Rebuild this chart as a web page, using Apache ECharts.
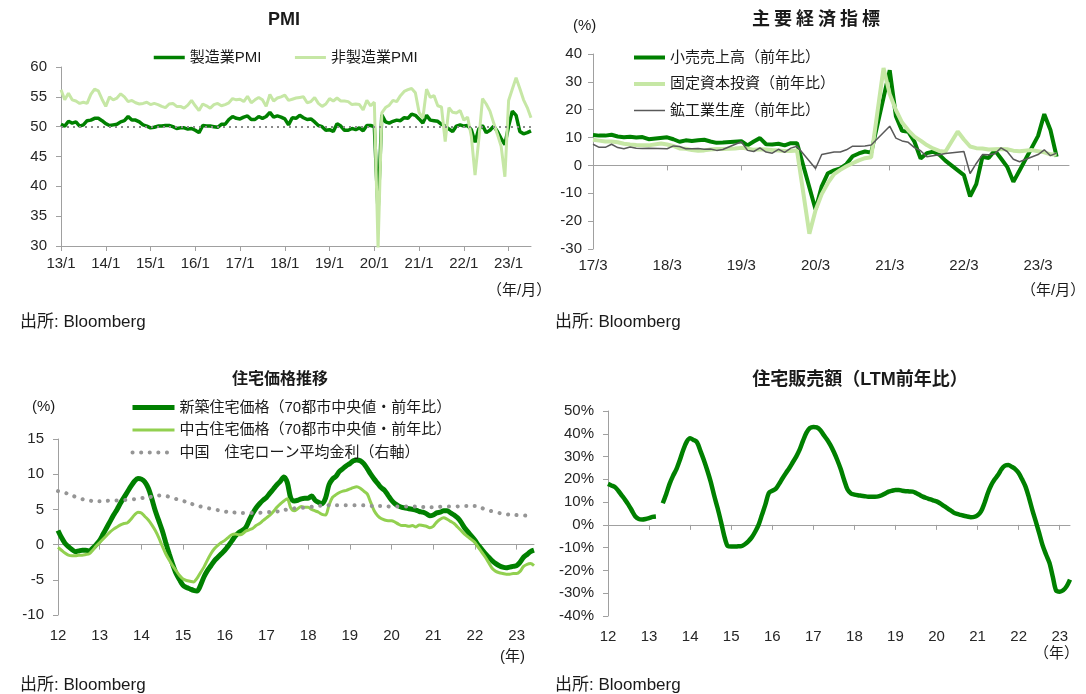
<!DOCTYPE html>
<html>
<head>
<meta charset="utf-8">
<title>China indicators</title>
<script src="https://cdn.jsdelivr.net/npm/echarts@6.0.0/dist/echarts.min.js"></script>
<style>
  html, body { margin: 0; padding: 0; background: #fff; }
  #chart { width: 1086px; height: 694px; }
</style>
</head>
<body>
<div id="chart"></div>
<script>
  // 月次カテゴリ (yy/m)
  const monthList = (y, m, n) => {
    const out = []
    for (let i = 0; i < n; i++) {
      const t = (y * 12 + m - 1) + i
      out.push(String(Math.floor(t / 12) % 100).padStart(2, '0') + '/' + (t % 12 + 1))
    }
    return out
  }

  // PMI (2013/1 - 2023/7)
  const pmiMonths = monthList(2013, 1, 127)
  const pmiMfg = [
    50.4, 50.1, 50.9, 50.6, 50.8, 50.1, 50.3, 51.0, 51.1, 51.4, 51.4, 51.0,
    50.5, 50.2, 50.3, 50.4, 50.8, 51.0, 51.7, 51.1, 51.1, 50.8, 50.3, 50.1,
    49.8, 49.9, 50.1, 50.1, 50.2, 50.2, 50.0, 49.7, 49.8, 49.8, 49.6, 49.7,
    49.4, 49.0, 50.2, 50.1, 50.1, 50.0, 49.9, 50.4, 50.4, 51.2, 51.7, 51.4,
    51.3, 51.6, 51.8, 51.2, 51.2, 51.7, 51.4, 51.7, 52.4, 51.6, 51.8, 51.6,
    51.3, 50.3, 51.5, 51.4, 51.9, 51.5, 51.2, 51.3, 50.8, 50.2, 50.0, 49.4,
    49.5, 49.2, 50.5, 50.1, 49.4, 49.4, 49.7, 49.5, 49.8, 49.3, 50.2, 50.2,
    50.0, 35.7, 52.0, 50.8, 50.6, 50.9, 51.1, 51.0, 51.5, 51.4, 52.1, 51.9,
    51.3, 50.6, 51.9, 51.1, 51.0, 50.9, 50.4, 50.1, 49.6, 49.2, 50.1, 50.3,
    50.1, 50.2, 49.5, 47.4, 49.6, 50.2, 49.0, 49.4, 50.1, 49.2, 48.0, 47.0,
    50.1, 52.6, 51.9, 49.2, 48.8, 49.0, 49.3
  ]
  const pmiNonMfg = [
    56.2, 54.5, 55.6, 54.5, 54.3, 53.9, 54.1, 53.9, 55.4, 56.3, 56.0, 54.6,
    53.4, 55.0, 54.5, 54.8, 55.5, 55.0, 54.2, 54.4, 54.0, 53.8, 53.9, 54.1,
    53.7, 53.9, 53.7, 53.4, 53.2, 53.8, 53.9, 53.4, 53.4, 53.1, 53.6, 54.4,
    53.5, 52.7, 53.8, 53.5, 53.1, 53.7, 53.9, 53.5, 53.7, 54.0, 54.7, 54.5,
    54.6, 54.2, 55.1, 54.0, 54.5, 54.9, 54.5, 53.4, 55.4, 54.3, 54.8, 55.0,
    55.3, 54.4, 54.6, 54.8, 54.9, 55.0, 54.0, 54.2, 54.9, 53.9, 53.4, 53.8,
    54.7, 54.3, 54.8, 54.3, 54.3, 54.2, 53.7, 53.8, 53.7, 52.8, 54.4, 53.5,
    54.1, 29.6, 52.3, 53.2, 53.6, 54.4, 54.2, 55.2, 55.9, 56.2, 56.4, 55.7,
    52.4, 51.4, 56.3, 54.9, 55.2, 53.5, 53.3, 47.5, 53.2, 52.4, 52.3, 52.7,
    51.1, 51.6, 48.4, 41.9, 47.8, 54.7, 53.8, 52.6, 50.6, 48.7, 46.7, 41.6,
    54.4, 56.3, 58.2, 56.4, 54.5, 53.2, 51.5
  ]

  // 主要経済指標 (2017/3 - 2023/8, 前年比 %)
  const econMonths = monthList(2017, 3, 78)
  const retailSales = [
    10.9, 10.7, 10.7, 11.0, 10.4, 10.1, 10.3, 10.0, 10.2, 9.4,
    null, null, 10.1, 9.4, 8.5, 9.0, 8.8, 9.0, 9.2, 8.6, 8.1, 8.2,
    null, null, 8.7, 7.2, 8.6, 9.8, 7.6, 7.5, 7.8, 7.2, 8.0, 8.0,
    null, null, -15.8, -7.5, -2.8, -1.8, -1.1, 0.5, 3.3, 4.3, 5.0, 4.6,
    null, null, 34.2, 17.7, 12.4, 12.1, 8.5, 2.5, 4.4, 4.9, 3.9, 1.7,
    null, null, -3.5, -11.1, -6.7, 3.1, 2.7, 5.4, 2.5, -0.5, -5.9, -1.8,
    null, null, 10.6, 18.4, 12.7, 3.1, null, null
  ]
  const fixedInvest = [
    9.2, 8.9, 8.6, 8.6, 8.3, 7.8, 7.5, 7.3, 7.2, 7.2,
    null, 7.9, 7.5, 7.0, 6.1, 6.0, 5.5, 5.3, 5.4, 5.7, 5.9, 5.9,
    null, 6.1, 6.3, 6.1, 5.6, 5.8, 5.7, 5.5, 5.4, 5.2, 5.2, 5.4,
    null, -24.5, -16.1, -10.3, -6.3, -3.1, -1.6, -0.3, 0.8, 1.8, 2.6, 2.9,
    null, 35.0, 25.6, 19.9, 15.4, 12.6, 10.3, 8.9, 7.3, 6.1, 5.2, 4.9,
    null, 12.2, 9.3, 6.8, 6.2, 6.1, 5.7, 5.8, 5.9, 5.8, 5.3, 5.1,
    null, 5.5, 5.1, 4.7, 4.0, 3.8, null, null
  ]
  const industrialProd = [
    7.6, 6.5, 6.5, 7.6, 6.4, 6.0, 6.6, 6.2, 6.1, 6.2,
    null, null, 6.0, 7.0, 6.8, 6.0, 6.0, 6.1, 5.8, 5.9, 5.4, 5.7,
    null, null, 8.5, 5.4, 5.0, 6.3, 4.8, 4.4, 5.8, 4.7, 6.2, 6.9,
    null, null, -1.1, 3.9, 4.4, 4.8, 4.8, 5.6, 6.9, 6.9, 7.0, 7.3,
    null, null, 14.1, 9.8, 8.8, 8.3, 6.4, 5.3, 3.1, 3.5, 3.8, 4.3,
    null, null, 5.0, -2.9, 0.7, 3.9, 3.8, 4.2, 6.3, 5.0, 2.2, 1.3,
    null, null, 3.9, 5.6, 3.5, 4.4, null, null
  ]

  // 住宅価格推移 (2012/1 - 2023/6, %)
  const houseMonths = monthList(2012, 1, 138)
  const newHomePrice = [
    2.0, 1.0, 0.2, -0.3, -0.7, -1.0, -0.9, -0.8, -0.8, -0.9, -0.5, 0.0,
    0.6, 1.5, 2.4, 3.3, 4.2, 5.0, 5.9, 6.7, 7.5, 8.3, 9.0, 9.4,
    9.3, 8.9, 8.0, 6.5, 4.8, 3.4, 2.0, 0.3, -1.3, -2.8, -4.1, -5.0,
    -5.8, -6.1, -6.3, -6.5, -6.6, -5.8, -4.6, -3.7, -3.0, -2.3, -1.8, -1.3,
    -0.8, -0.2, 0.5, 1.2, 1.7, 2.0, 2.4, 3.4, 4.4, 5.2, 5.8, 6.3,
    6.7, 7.3, 7.9, 8.5, 9.0, 9.6, 8.8, 6.6, 6.2, 6.3, 6.5, 6.6,
    6.6, 6.9, 6.3, 6.0, 5.8, 6.6, 8.5, 9.3, 9.7, 10.4, 10.8, 11.2,
    11.5, 11.9, 12.0, 11.9, 11.5, 10.8, 10.0, 9.3, 8.7, 8.1, 7.7, 7.0,
    6.3, 5.8, 5.5, 5.3, 5.2, 5.1, 5.0, 4.9, 4.7, 4.6, 4.4, 4.1,
    4.2, 4.5, 4.6, 4.8, 4.8, 4.5, 4.2, 3.8, 3.2, 2.4, 1.8, 1.2,
    0.6, -0.1, -0.7, -1.3, -1.8, -2.3, -2.7, -3.0, -3.2, -3.3, -3.2, -3.1,
    -3.0, -2.5, -1.8, -1.4, -1.0, -0.8
  ]
  const usedHomePrice = [
    -0.4, -0.8, -1.2, -1.5, -1.6, -1.6, -1.5, -1.5, -1.4, -1.3, -0.8, -0.2,
    0.3, 0.8, 1.3, 1.8, 2.2, 2.5, 2.8, 3.0, 3.1, 3.6, 4.2, 4.6,
    4.5, 4.0, 3.5, 2.8, 2.0, 1.0, -0.2, -1.3, -2.2, -3.0, -3.7, -4.4,
    -4.9, -5.1, -5.2, -5.3, -4.8, -4.0, -3.2, -2.2, -1.3, -0.6, -0.1, 0.3,
    0.6, 1.0, 1.4, 1.5, 1.4, 1.5, 1.9, 2.1, 2.3, 2.7, 3.0, 3.4,
    3.8, 4.2, 4.7, 5.3, 5.8, 6.2, 6.5, 5.2, 4.8, 5.1, 5.4, 5.3,
    5.3, 5.0, 4.8, 4.6, 4.3, 4.2, 5.6, 6.7, 7.1, 7.4, 7.6, 7.7,
    7.9, 8.1, 8.2, 8.0, 7.6, 7.2, 6.0, 4.8, 4.1, 3.7, 3.5, 3.4,
    3.4, 3.2, 2.9, 2.7, 2.7, 2.6, 2.7, 2.5, 2.8, 2.7, 2.6, 2.4,
    2.6, 3.2, 3.6, 3.8, 3.6, 3.3, 3.0, 2.5, 2.0, 1.5, 1.1, 0.7,
    0.3, -0.4, -1.1, -1.8, -2.6, -3.4, -3.8, -4.0, -4.1, -4.2, -4.2, -4.1,
    -4.1, -3.8, -3.1, -2.8, -2.7, -3.0
  ]
  // 住宅ローン平均金利 (四半期: 1,4,7,10月)
  const mortgageRateQ = [
    7.6, 7.2, 6.6, 6.25,
    6.15, 6.25, 6.3, 6.4,
    6.6, 6.8, 7.0, 6.6,
    6.2, 5.7, 5.3, 5.0,
    4.7, 4.55, 4.5, 4.5,
    4.6, 4.7, 5.0, 5.2,
    5.3, 5.5, 5.6, 5.6,
    5.6, 5.6, 5.5, 5.5,
    5.4, 5.4, 5.4, 5.35,
    5.3, 5.4, 5.4, 5.5,
    5.5, 5.0, 4.6, 4.3,
    4.2, 4.1
  ]
  const mortgageRate = houseMonths.map((m, i) => (i % 3 === 0 && mortgageRateQ[i / 3] != null ? mortgageRateQ[i / 3] : null))

  // 住宅販売額 LTM前年比 (2012/1 - 2023/4, %)
  const salesMonths = monthList(2012, 1, 136)
  const homeSalesLtm = [
    18.0, 17.3, 16.6, 15.0, 13.0, 11.0, 8.8, 6.2, 3.7, 2.6, 2.4, 2.6,
    3.0, 3.5, 3.7, null, 9.5, 13.5, 18.0, 21.5, 24.5, 28.5, 33.0, 36.5,
    38.0, 37.3, 36.3, 32.5, 28.5, 24.0, 19.0, 13.0, 7.5, 1.5, -5.0, -9.3,
    -9.5, -9.5, -9.4, -9.3, -8.5, -7.2, -5.5, -3.0, 0.0, 4.5, 9.0, 14.0,
    15.0, 15.8, 18.0, 20.5, 22.8, 25.0, 27.5, 30.0, 33.0, 37.0, 40.5, 42.5,
    43.0, 42.8, 41.7, 39.5, 37.5, 35.0, 32.0, 28.5, 24.5, 19.7, 15.5, 13.8,
    13.3, 13.0, 12.8, 12.6, 12.4, 12.4, 12.4, 12.5, 13.0, 13.8, 14.6, 15.0,
    15.3, 15.3, 15.0, 14.8, 14.7, 14.6, 14.0, 13.2, 12.4, 11.8, 11.3, 10.8,
    10.3, 9.5, 8.5, 7.5, 6.5, 5.4, 4.8, 4.4, 4.0, 3.7, 3.4, 3.5,
    4.2, 5.9, 9.5, 14.0, 17.5, 20.0, 22.0, 24.5, 26.0, 26.3, 25.5, 24.5,
    22.8, 20.0, 16.8, 12.0, 6.5, 1.5, -3.6, -9.0, -13.0, -16.7, -23.0, -29.0,
    -29.3, -28.7, -27.0, -24.0
  ]

  const DARK = '#008000'
  const PALE = '#c6e7a5'
  const LIGHT = '#92d050'
  const AXIS = '#a0a0a0'
  const TXT = '#262626'
  const FONT = "'Liberation Sans', 'Noto Sans CJK JP', sans-serif"

  const monthOf = (v) => v.split('/')[1]
  const yearOf = (v) => v.split('/')[0]

  const lineAxis = { show: true, lineStyle: { color: AXIS, width: 1 } }
  const tick = { show: true, length: 5, lineStyle: { color: AXIS } }
  const lbl = { color: TXT, fontSize: 15, fontFamily: FONT }

  // 下側ラベル用の軸 + ゼロ線の軸
  const labelAxis = (grid, data, keep, fmt, margin) => ({
    type: 'category', gridIndex: grid, data, boundaryGap: false, position: 'bottom',
    axisLine: { show: false, onZero: false }, axisTick: { show: false },
    axisLabel: { ...lbl, interval: (i, v) => keep(v), formatter: fmt, margin },
    splitLine: { show: false }
  })
  const zeroAxis = (grid, data, keep) => ({
    type: 'category', gridIndex: grid, data, boundaryGap: false, position: 'top',
    axisLine: { ...lineAxis, onZero: true },
    axisTick: { ...tick, inside: true, interval: (i, v) => keep(v) },
    axisLabel: { show: false }, splitLine: { show: false }
  })
  const valueAxis = (grid, min, max, interval, margin, fmt) => ({
    type: 'value', gridIndex: grid, min, max, interval, position: 'left',
    axisLine: lineAxis, axisTick: tick,
    axisLabel: { ...lbl, margin, formatter: fmt }, splitLine: { show: false }
  })

  const isJan = (v) => monthOf(v) === '1'
  const isMar = (v) => monthOf(v) === '3'

  const text = (t, x, y, opts = {}) => ({
    type: 'text', x, y, silent: true,
    style: {
      text: t, fill: '#1a1a1a', font: (opts.bold ? 'bold ' : '') + (opts.size || 15) + 'px ' + FONT,
      align: opts.align || 'left', verticalAlign: 'middle'
    }
  })
  // 字間をあけたタイトル (1文字ずつ配置)
  const spacedTitle = (t, cx, y, size, gap) => {
    const step = size + gap
    const x0 = cx - (t.length * step - gap) / 2 + size / 2
    return t.split('').map((ch, i) => text(ch, x0 + i * step, y, { bold: true, size, align: 'center' }))
  }

  const legendBase = {
    textStyle: { color: '#1a1a1a', fontSize: 15, fontFamily: FONT },
    selectedMode: false, itemHeight: 14, padding: 0,
    itemStyle: { opacity: 0 },
    lineStyle: { width: 'inherit' }
  }

  const chart = echarts.init(document.getElementById('chart'))
  chart.setOption({
    animation: false,
    backgroundColor: '#fff',
    textStyle: { fontFamily: FONT },
    grid: [
      { left: 61, top: 67, width: 470, height: 179 },
      { left: 593, top: 54, width: 476, height: 195 },
      { left: 58, top: 439, width: 476, height: 176 },
      { left: 608, top: 411, width: 462, height: 205 }
    ],
    legend: [
      { ...legendBase, data: ['製造業PMI', '非製造業PMI'], left: 152, top: 50, itemWidth: 31, itemGap: 32 },
      { ...legendBase, data: ['小売売上高（前年比）', '固定資本投資（前年比）', '鉱工業生産（前年比）'], orient: 'vertical', left: 632, top: 50, itemWidth: 31, itemGap: 11.5 },
      { ...legendBase, data: ['新築住宅価格（70都市中央値・前年比）', '中古住宅価格（70都市中央値・前年比）', '中国　住宅ローン平均金利（右軸）'], orient: 'vertical', left: 130, top: 400, itemWidth: 42, itemGap: 7.5 }
    ],
    xAxis: [
      {
        type: 'category', gridIndex: 0, data: pmiMonths, boundaryGap: false,
        axisLine: { ...lineAxis, onZero: false },
        axisTick: { ...tick, interval: (i, v) => isJan(v) },
        axisLabel: { ...lbl, interval: (i, v) => isJan(v), margin: 10 },
        splitLine: { show: false }
      },
      labelAxis(1, econMonths, isMar, null, 9),
      zeroAxis(1, econMonths, isMar),
      labelAxis(2, houseMonths, isJan, yearOf, 13),
      zeroAxis(2, houseMonths, isJan),
      labelAxis(3, salesMonths, isJan, yearOf, 13),
      zeroAxis(3, salesMonths, isJan)
    ],
    yAxis: [
      valueAxis(0, 30, 60, 5, 14),
      valueAxis(1, -30, 40, 10, 11),
      valueAxis(2, -10, 15, 5, 14),
      { type: 'value', gridIndex: 2, min: -10, max: 15, position: 'right', show: false, splitLine: { show: false } },
      valueAxis(3, -40, 50, 10, 14, '{value}%')
    ],
    series: [
      {
        name: '製造業PMI', type: 'line', xAxisIndex: 0, yAxisIndex: 0, data: pmiMfg,
        symbol: 'none', lineStyle: { color: DARK, width: 3.5 }, itemStyle: { color: DARK },
        markLine: {
          silent: true, symbol: 'none', label: { show: false },
          lineStyle: { color: '#8a8a8a', type: [2, 4], width: 2 },
          data: [{ yAxis: 50 }]
        }
      },
      {
        name: '非製造業PMI', type: 'line', xAxisIndex: 0, yAxisIndex: 0, data: pmiNonMfg,
        symbol: 'none', lineStyle: { color: PALE, width: 3 }, itemStyle: { color: PALE }
      },
      {
        name: '小売売上高（前年比）', type: 'line', xAxisIndex: 1, yAxisIndex: 1, data: retailSales,
        symbol: 'none', connectNulls: true, lineStyle: { color: DARK, width: 4 }, itemStyle: { color: DARK }
      },
      {
        name: '固定資本投資（前年比）', type: 'line', xAxisIndex: 1, yAxisIndex: 1, data: fixedInvest,
        symbol: 'none', connectNulls: true, lineStyle: { color: PALE, width: 4 }, itemStyle: { color: PALE }
      },
      {
        name: '鉱工業生産（前年比）', type: 'line', xAxisIndex: 1, yAxisIndex: 1, data: industrialProd,
        symbol: 'none', connectNulls: true, lineStyle: { color: '#595959', width: 1.5 }, itemStyle: { color: '#595959' }
      },
      {
        name: '新築住宅価格（70都市中央値・前年比）', type: 'line', xAxisIndex: 3, yAxisIndex: 2, data: newHomePrice,
        symbol: 'none', smooth: 0.3, lineStyle: { color: DARK, width: 5 }, itemStyle: { color: DARK }
      },
      {
        name: '中古住宅価格（70都市中央値・前年比）', type: 'line', xAxisIndex: 3, yAxisIndex: 2, data: usedHomePrice,
        symbol: 'none', smooth: 0.3, lineStyle: { color: LIGHT, width: 3 }, itemStyle: { color: LIGHT }
      },
      {
        name: '中国　住宅ローン平均金利（右軸）', type: 'line', xAxisIndex: 3, yAxisIndex: 3, data: mortgageRate,
        symbol: 'none', smooth: 0.4, connectNulls: true,
        lineStyle: { color: '#959595', width: 4, type: [0.1, 8.5], cap: 'round' }, itemStyle: { color: '#959595' }
      },
      {
        name: '住宅販売額', type: 'line', xAxisIndex: 5, yAxisIndex: 4, data: homeSalesLtm,
        symbol: 'none', smooth: 0.3, lineStyle: { color: DARK, width: 4.5 }, itemStyle: { color: DARK }
      }
    ],
    graphic: [
      text('PMI', 284, 20, { bold: true, size: 18, align: 'center' }),
      ...spacedTitle('主要経済指標', 816, 20, 18, 4),
      text('住宅価格推移', 280, 380, { bold: true, size: 16, align: 'center' }),
      text('住宅販売額（LTM前年比）', 860, 380, { bold: true, size: 18, align: 'center' }),
      text('出所: Bloomberg', 20, 322, { size: 17 }),
      text('出所: Bloomberg', 555, 322, { size: 17 }),
      text('出所: Bloomberg', 20, 685, { size: 17 }),
      text('出所: Bloomberg', 555, 685, { size: 17 }),
      text('（年/月）', 487, 291),
      text('（年/月）', 1021, 291),
      text('(年)', 500, 657),
      text('（年）', 1034, 654),
      text('(%)', 573, 26),
      text('(%)', 32, 407)
    ]
  })
</script>
</body>
</html>
